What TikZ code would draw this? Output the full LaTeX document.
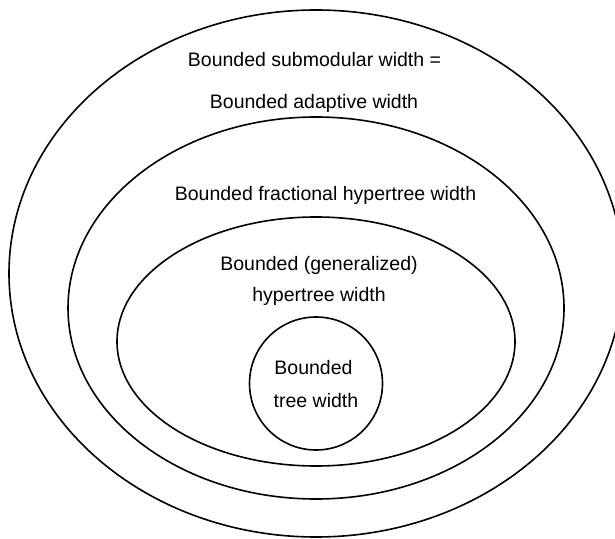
\documentclass[tikz,border=0pt]{standalone}
\usepackage{fontspec}
\setmainfont{Liberation Sans}
\usetikzlibrary{shapes.geometric}
\begin{document}
\begin{tikzpicture}[x=1pt,y=1pt,
  ring/.style={draw=black, line width=1.6pt, ellipse, inner sep=0pt, fill=none},
  lbl/.style={anchor=base, inner sep=0pt, font=\fontsize{19.5}{23}\selectfont}]
\useasboundingbox (0,0) rectangle (615,538);
\fill[white] (0,0) rectangle (615,538);
\clip (0,0) rectangle (615,538);
\node[ring, minimum width=614pt, minimum height=527pt] (outer) at (316,264.5) {};
\node[ring, minimum width=496pt, minimum height=382pt] (fhw) at (316,230) {};
\node[ring, minimum width=398pt, minimum height=249pt] (ghw) at (316,196.5) {};
\node[ring, circle, minimum size=133pt] (tw) at (316,154.5) {};
\node[lbl] (t1) at (314.5,471) {Bounded submodular width =};
\node[lbl] (t2) at (314,429) {Bounded adaptive width};
\node[lbl] (t3) at (325.5,337) {Bounded fractional hypertree width};
\node[lbl] (t4) at (319,267) {Bounded (generalized)};
\node[lbl] (t5) at (319,236) {hypertree width};
\node[lbl] (t6) at (313.5,163) {Bounded};
\node[lbl] (t7) at (316,130) {tree width};
\end{tikzpicture}
\end{document}
